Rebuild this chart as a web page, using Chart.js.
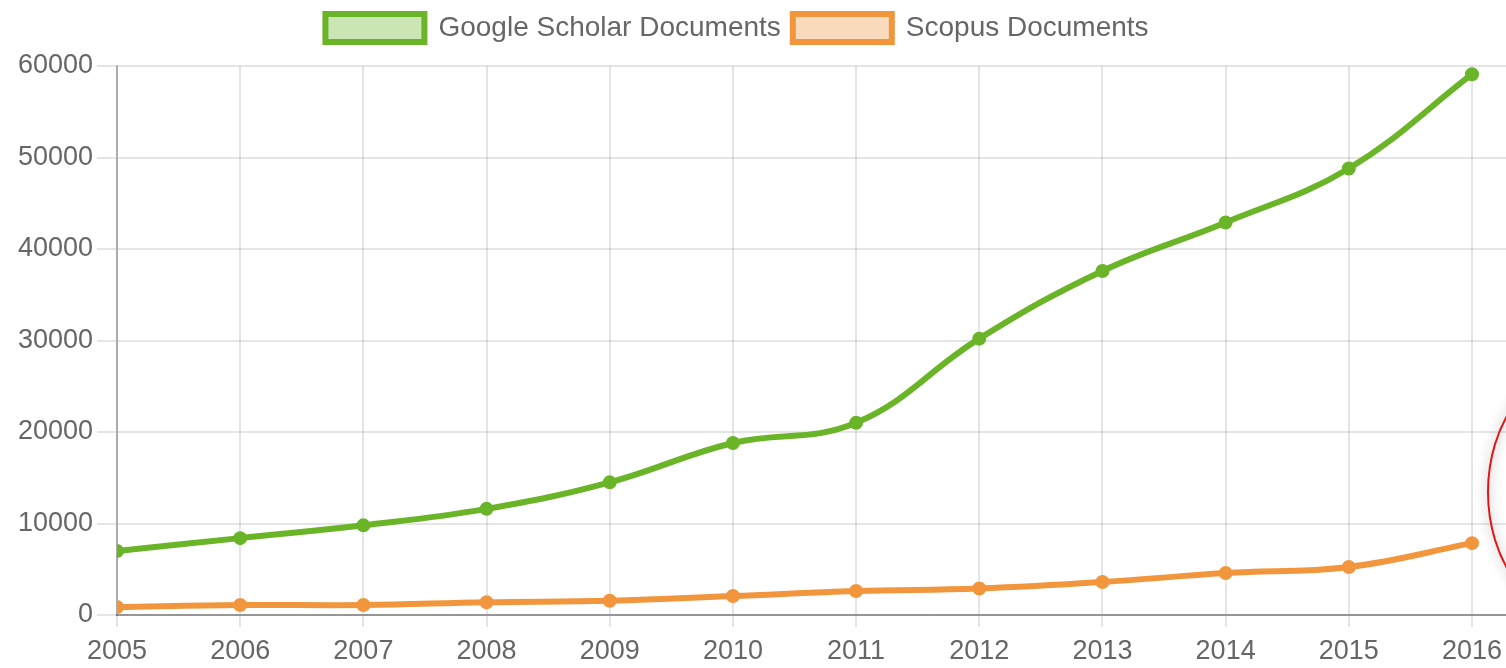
<!DOCTYPE html>
<html>
<head>
<meta charset="utf-8">
<script src="https://cdn.jsdelivr.net/npm/chart.js@4/dist/chart.umd.min.js"></script>
<style>
  html, body { margin: 0; padding: 0; background: #ffffff; }
  #wrap { position: relative; width: 1506px; height: 668px; }
</style>
</head>
<body>
<div id="wrap"><canvas id="c" width="1506" height="668"></canvas></div>
<script>
const years = [2005, 2006, 2007, 2008, 2009, 2010, 2011, 2012, 2013, 2014, 2015, 2016];
const googleScholar = [7000, 8400, 9800, 11600, 14500, 18800, 21000, 30200, 37600, 42900, 48800, 59100];
const scopus = [870, 1090, 1090, 1400, 1560, 2070, 2620, 2900, 3600, 4580, 5250, 7850];
const yTicks = [0, 10000, 20000, 30000, 40000, 50000, 60000];
const seriesNames = ['Google Scholar Documents', 'Scopus Documents'];

const green = 'rgb(106,180,40)';
const orange = 'rgb(242,150,62)';
const FONT = "'Liberation Sans', Arial, Helvetica, sans-serif";

const layoutTweak = {
  id: 'layoutTweak',
  beforeInit(chart) {
    if (!chart.legend) return;
    const origFit = chart.legend.fit;
    chart.legend.fit = function () {
      origFit.call(this);
      this.height += 14;
    };
  },
  afterLayout(chart) {
    if (chart.legend) {
      chart.legend.left = -32;
      chart.legend.right = chart.width;
    }
    // let the plot area run to the right edge of the canvas
    const xs = chart.scales.x;
    chart.chartArea.right = chart.width;
    chart.chartArea.width = chart.chartArea.right - chart.chartArea.left;
    xs.right = chart.width;
    xs.width = xs.right - xs.left;
    xs.configure();
    chart.scales.y.configure();
  }
};

const circlePlugin = {
  id: 'redCircle',
  afterDraw(chart) {
    const ctx = chart.ctx;
    ctx.save();
    ctx.shadowColor = 'rgba(0,0,0,0.45)';
    ctx.shadowBlur = 12;
    ctx.strokeStyle = 'rgb(230,20,20)';
    ctx.lineWidth = 2;
    ctx.beginPath();
    ctx.ellipse(1588, 492, 100, 130, 0, 0, Math.PI * 2);
    ctx.stroke();
    ctx.restore();
  }
};

new Chart(document.getElementById('c'), {
  type: 'line',
  data: {
    datasets: [
      {
        label: seriesNames[0],
        data: years.map((y, i) => ({ x: y, y: googleScholar[i] })),
        borderColor: green,
        backgroundColor: 'rgba(106,180,40,0.35)',
        borderWidth: 6,
        pointRadius: 4,
        pointBackgroundColor: green,
        pointBorderColor: green,
        tension: 0.4,
        fill: false
      },
      {
        label: seriesNames[1],
        data: years.map((y, i) => ({ x: y, y: scopus[i] })),
        borderColor: orange,
        backgroundColor: 'rgba(242,150,62,0.35)',
        borderWidth: 6,
        pointRadius: 4,
        pointBackgroundColor: orange,
        pointBorderColor: orange,
        tension: 0.4,
        fill: false
      }
    ]
  },
  options: {
    responsive: false,
    animation: false,
    layout: { padding: { top: 2, right: 0, left: 0, bottom: 0 } },
    plugins: {
      legend: {
        position: 'top',
        labels: {
          boxWidth: 99,
          boxHeight: 28,
          padding: 12,
          color: '#666',
          font: { family: FONT, size: 28 }
        }
      },
      tooltip: { enabled: false }
    },
    scales: {
      x: {
        type: 'linear',
        min: 2005,
        max: 2016.276,
        afterBuildTicks(scale) {
          scale.ticks = years.map(v => ({ value: v }));
        },
        afterFit(scale) { scale.height = 53; },
        ticks: {
          color: '#666',
          font: { family: FONT, size: 27 },
          padding: 8,
          maxRotation: 0,
          autoSkip: false,
          callback: v => String(v)
        },
        grid: {
          color: 'rgba(0,0,0,0.1)',
          lineWidth: 2,
          tickLength: 12,
          drawTicks: true
        },
        border: { color: 'rgba(0,0,0,0.35)', width: 2 }
      },
      y: {
        min: 0,
        max: 60000,
        afterBuildTicks(scale) {
          scale.ticks = yTicks.map(v => ({ value: v }));
        },
        afterFit(scale) { scale.width = 117; },
        ticks: {
          color: '#666',
          font: { family: FONT, size: 27 },
          padding: 4,
          callback: v => String(v)
        },
        grid: {
          color: 'rgba(0,0,0,0.1)',
          lineWidth: 2,
          tickLength: 20
        },
        border: { color: 'rgba(0,0,0,0.25)', width: 2 }
      }
    }
  },
  plugins: [layoutTweak, circlePlugin]
});
</script>
</body>
</html>
